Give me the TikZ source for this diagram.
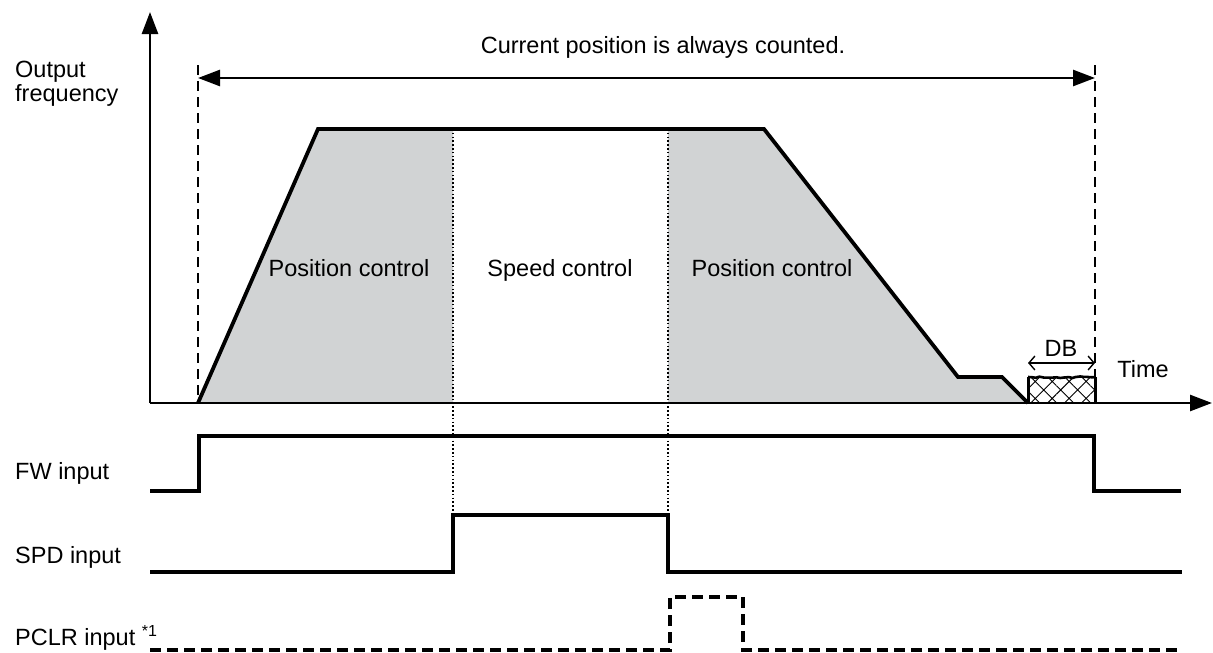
\documentclass[tikz,border=0pt]{standalone}
\usepackage{fontspec}
\setmainfont{Liberation Sans}
\usetikzlibrary{arrows.meta,patterns.meta,decorations.pathmorphing}
\definecolor{areagray}{HTML}{D1D3D4}
\tikzset{
  axisline/.style={line width=2.6pt, -{Triangle[length=22pt,width=16pt]}},
  curveline/.style={line width=3.8pt, line join=miter},
  sigline/.style={line width=3.8pt, line join=miter},
  markline/.style={line width=2.8pt, dash pattern=on 10pt off 6pt},
  divline/.style={line width=1.3pt, dash pattern=on 1.6pt off 2.2pt},
  lbl/.style={inner sep=0pt, anchor=west},
  arealbl/.style={inner sep=0pt, anchor=base}
}
\begin{document}
\begin{tikzpicture}[x=1pt, y=-1pt, font=\fontsize{23.5}{24}\selectfont, line cap=butt]
\useasboundingbox (0,0) rectangle (1213,653);
% curve points
\path
(150,403) coordinate (O)
(150,12) coordinate (Ytip)
(1212,403) coordinate (Xtip)
(198,403) coordinate (S)
(318,129) coordinate (P1)
(764,129) coordinate (P2)
(958,377) coordinate (P3)
(1002,377) coordinate (P4)
(1028,403) coordinate (E)
(453,129) coordinate (Ta) (453,403) coordinate (Ba) (453,515) coordinate (Da)
(668,129) coordinate (Tb) (668,403) coordinate (Bb) (668,515) coordinate (Db)
(1028,377) coordinate (DBtl) (1095,377) coordinate (DBtr) (1095,403) coordinate (DBbr)
(198,65) coordinate (Ltop) (1095,65) coordinate (Rtop)
(198,78) coordinate (La) (1095,78) coordinate (Ra)
(1028,363) coordinate (DBl) (1095,363) coordinate (DBr)
;
% shaded areas
\fill[areagray] (S)--(P1)--(Ta)--(Ba)--cycle;
\fill[areagray] (Tb)--(P2)--(P3)--(P4)--(E)--(Bb)--cycle;
% DB box
\fill[pattern={Hatch[angle=45,distance=12pt,line width=0.9pt]}] (E) rectangle (DBtr);
\draw[line width=3pt] (E)--(DBtl);
\draw[line width=3pt] (DBbr)--(DBtr);
\draw[line width=2.6pt, decorate, decoration={random steps,segment length=4pt,amplitude=1pt}] (DBtl)--(DBtr);
% axes
\draw[axisline] (O)--(Ytip);
\draw[axisline] (O)--(Xtip);
% dividers
\draw[divline] (Ta)--(Da);
\draw[divline] (Tb)--(Db);
% curve
\draw[curveline] (S)--(P1)--(P2)--(P3)--(P4)--(E);
% counting range
\draw[markline] (Ltop)--(S);
\draw[markline] (Rtop)--(DBtr);
\draw[line width=2.6pt, {Triangle[length=22pt,width=16pt]}-{Triangle[length=22pt,width=16pt]}] (La)--(Ra);
\draw[line width=1.4pt, {Straight Barb[length=6pt,width=14pt]}-{Straight Barb[length=6pt,width=14pt]}] (DBl)--(DBr);
% texts
\node (count) at (663,47) {Current position is always counted.};
\node[lbl, align=left] (yname) at (15,84) {Output\\frequency};
\node[arealbl] (pos1) at (349,276) {Position control};
\node[arealbl] (spd) at (560,276) {Speed control};
\node[arealbl] (pos2) at (772,276) {Position control};
\node[arealbl] (db) at (1061,356) {DB};
\node[arealbl] (time) at (1143,377) {Time};
\node[lbl] (fw) at (15,473) {FW input};
\node[lbl] (spdin) at (15,557) {SPD input};
\node[lbl] (pclr) at (15,638) {PCLR input \raisebox{9pt}{\fontsize{16}{16}\selectfont *1}};
% signals
\path
(150,491) coordinate (f0) (199,491) coordinate (f1) (199,436) coordinate (f2)
(1094,436) coordinate (f3) (1094,491) coordinate (f4) (1181,491) coordinate (f5)
(150,572) coordinate (s0) (453,572) coordinate (s1) (453,515) coordinate (s2)
(668,515) coordinate (s3) (668,572) coordinate (s4) (1182,572) coordinate (s5)
(150,650) coordinate (c0) (670,650) coordinate (c1) (670,597) coordinate (c2)
(743,597) coordinate (c3) (743,650) coordinate (c4) (1183,650) coordinate (c5)
;
\draw[sigline] (f0)--(f1)--(f2)--(f3)--(f4)--(f5);
\draw[sigline] (s0)--(s1)--(s2)--(s3)--(s4)--(s5);
\draw[sigline, dash pattern=on 11pt off 6pt] (c0)--(c1)--(c2)--(c3)--(c4)--(c5);
\end{tikzpicture}
\end{document}
